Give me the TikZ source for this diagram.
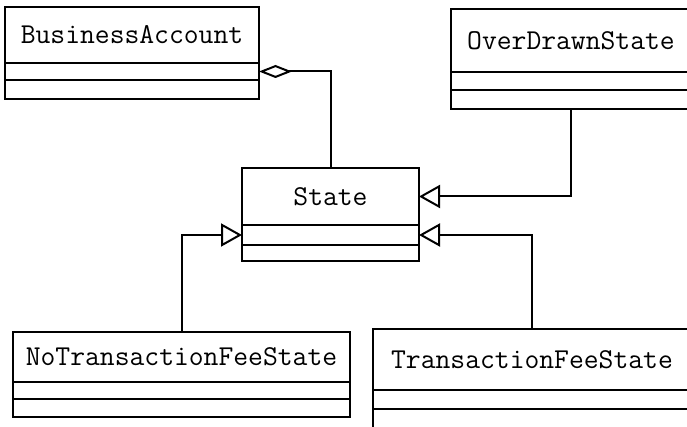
\documentclass[tikz,border=0pt]{standalone}
\usepackage{tikz}
\usetikzlibrary{arrows.meta,positioning}

\begin{document}
\begin{tikzpicture}[
  x=0.5pt, y=-0.5pt,
  line width=1pt,
  node distance=0pt,
  namebox/.style={draw, rectangle, anchor=north west, outer sep=0pt,
                  font=\ttfamily\fontsize{14.4}{17}\selectfont},
  slot/.style={draw, rectangle, outer sep=0pt, inner sep=0pt},
  aggr/.style={{Diamond[open, length=16.5pt, width=6.5pt]}-},
  inherit/.style={-{Triangle[open, length=10.5pt, width=11.5pt]}}
]
\clip (0,0) rectangle (687,427);

% Classes
\node[namebox, minimum width=127pt, minimum height=28pt] (ba) at (5,7) {BusinessAccount};
\node[slot, minimum width=127pt, minimum height=8.5pt, below=of ba] (ba-attr) {};
\node[slot, minimum width=127pt, minimum height=9.5pt, below=of ba-attr] (ba-ops) {};

\node[namebox, minimum width=120pt, minimum height=31.5pt] (od) at (451,9) {OverDrawnState};
\node[slot, minimum width=120pt, minimum height=9pt, below=of od] (od-attr) {};
\node[slot, minimum width=120pt, minimum height=9.5pt, below=of od-attr] (od-ops) {};

\node[namebox, minimum width=88.5pt, minimum height=28.5pt] (state) at (242,168) {State};
\node[slot, minimum width=88.5pt, minimum height=10pt, below=of state] (state-attr) {};
\node[slot, minimum width=88.5pt, minimum height=8pt, below=of state-attr] (state-ops) {};

\node[namebox, minimum width=168.5pt, minimum height=25pt] (nt) at (13,332) {NoTransactionFeeState};
\node[slot, minimum width=168.5pt, minimum height=8.5pt, below=of nt] (nt-attr) {};
\node[slot, minimum width=168.5pt, minimum height=9pt, below=of nt-attr] (nt-ops) {};

\node[namebox, minimum width=159pt, minimum height=30.5pt] (tf) at (373,329) {TransactionFeeState};
\node[slot, minimum width=159pt, minimum height=9.5pt, below=of tf] (tf-attr) {};
\node[slot, minimum width=159pt, minimum height=10pt, below=of tf-attr] (tf-ops) {};

% Connectors
\draw[aggr] (ba-attr.east) -| (state.north);
\draw[inherit] (od.south |- od-ops.south) |- (state.east);
\draw[inherit] (nt.north) |- (state-attr.west);
\draw[inherit] (tf.north) |- (state-attr.east);
\end{tikzpicture}
\end{document}
